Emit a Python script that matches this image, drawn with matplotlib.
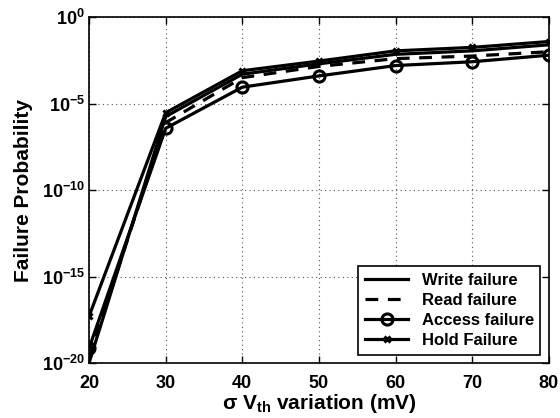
import numpy as np
import matplotlib.pyplot as plt

plt.rcParams["font.family"] = ["Liberation Sans", "DejaVu Sans"]
plt.rcParams["font.weight"] = "bold"
plt.rcParams["axes.labelweight"] = "bold"
plt.rcParams["mathtext.fontset"] = "custom"
plt.rcParams["mathtext.rm"] = "Liberation Sans:bold"
plt.rcParams["mathtext.bf"] = "Liberation Sans:bold"
plt.rcParams["mathtext.it"] = "Liberation Sans:bold"
plt.rcParams["mathtext.default"] = "bf"

# sigma Vth variation (mV)
sigma_vth = [20, 30, 40, 50, 60, 70, 80]
# log10 of failure probability
write_exp = [-20.0, -5.75, -3.3, -2.7, -2.15, -1.95, -1.6]
read_exp = [-19.7, -6.1, -3.5, -2.85, -2.4, -2.25, -2.0]
access_exp = [-19.15, -6.43, -4.05, -3.4, -2.8, -2.58, -2.2]
hold_exp = [-17.3, -5.53, -3.1, -2.54, -1.95, -1.75, -1.41]

fig = plt.figure(figsize=(5.6, 4.18), dpi=100)
ax = fig.add_axes([0.159, 0.1316, 0.821, 0.8274])

lw = 2.3
ax.plot(sigma_vth, 10.0 ** np.array(write_exp), "k-", lw=lw, label="Write failure")
ax.plot(sigma_vth, 10.0 ** np.array(read_exp), "k--", lw=lw, dashes=(4, 3), label="Read failure")
ax.plot(sigma_vth, 10.0 ** np.array(access_exp), "k-", lw=lw, marker="o", ms=8,
        mfc="none", mew=2.2, label="Access failure")
ax.plot(sigma_vth, 10.0 ** np.array(hold_exp), "k-", lw=lw, marker="x", ms=5,
        mew=2.2, label="Hold Failure")

ax.set_yscale("log")
ax.set_xlim(20, 80)
ax.set_ylim(1e-20, 1)
ax.set_yticks([1e-20, 1e-15, 1e-10, 1e-5, 1])
ax.minorticks_off()
ax.set_xticks([20, 30, 40, 50, 60, 70, 80])
ax.tick_params(direction="in", top=True, right=True, labelsize=13, length=5, width=1)
ax.tick_params(axis="x", pad=9)
ax.tick_params(axis="y", pad=3)
ax.grid(True, linestyle=(0, (1, 3)), color="#555555", lw=0.8)
for s in ax.spines.values():
    s.set_linewidth(1.2)

ax.set_xlabel(r"$\sigma$ V$_{\mathbf{th}}$ variation (mV)", fontsize=15, labelpad=0)
ax.set_ylabel("Failure Probability", fontsize=15, labelpad=6)

leg = ax.legend(loc="lower right", fontsize=12, frameon=True, fancybox=False,
                edgecolor="black", framealpha=1, handlelength=2.6,
                borderaxespad=0.5, labelspacing=0.3)
leg.get_frame().set_linewidth(1.2)

fig.savefig("out.png", dpi=100)
